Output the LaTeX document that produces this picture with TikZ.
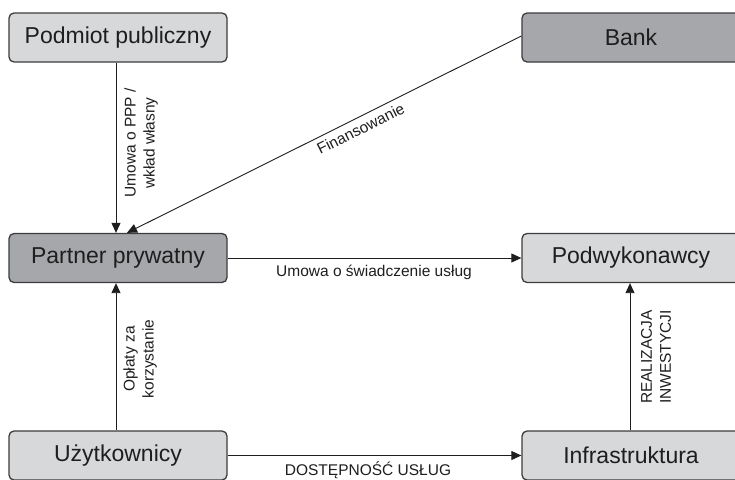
\documentclass[tikz,border=0pt]{standalone}
\usepackage{fontspec}
\setmainfont{Liberation Sans}
\usetikzlibrary{arrows.meta}
\definecolor{boxlight}{HTML}{D7D8DA}
\definecolor{boxdark}{HTML}{A5A7AA}
\definecolor{boxline}{HTML}{3C3C3C}
\definecolor{ink}{HTML}{1E1E1E}
\tikzset{
  box/.style={draw=boxline, line width=1.3pt, rounded corners=5pt,
    minimum width=218pt, minimum height=49pt, inner sep=0pt,
    font=\fontsize{23}{27}\selectfont, text=ink},
  light/.style={box, fill=boxlight},
  dark/.style={box, fill=boxdark},
  arr/.style={draw=ink, line width=0.9pt, -{Triangle[length=10pt,width=9pt]}},
  lbl/.style={font=\fontsize{15.5}{19}\selectfont, text=ink, inner sep=0pt, align=center}
}
\begin{document}
\begin{tikzpicture}[x=1pt,y=-1pt]
  \useasboundingbox (0,0) rectangle (735,479);
  % boxes
  \node[light] (pub)  at (118,37.5)  {Podmiot publiczny};
  \node[dark]  (bank) at (631,37.5)  {Bank};
  \node[dark]  (prv)  at (118,258)   {Partner prywatny};
  \node[light] (sub)  at (631,258)   {Podwykonawcy};
  \node[light] (usr)  at (118,455.5) {Użytkownicy};
  \node[light] (inf)  at (631,455.5) {Infrastruktura};
  % connectors with their labels
  \draw[arr] ([xshift=-2pt]pub.south) -- ([xshift=-2pt]prv.north);
  \draw[arr] ([yshift=1.5pt]bank.west) -- ([xshift=9pt]prv.north)
    node[lbl, pos=0.42, sloped, below=5pt] (l2) {Finansowanie};
  \draw[arr] (prv.east) -- (sub.west);
  \draw[arr] ([xshift=-2pt]usr.north) -- ([xshift=-2pt]prv.south);
  \draw[arr] ([xshift=-1pt]inf.north) -- ([xshift=-1pt]sub.south);
  \draw[arr] (usr.east) -- (inf.west);
  % remaining labels
  \node[lbl, rotate=90] (l1) at (141,143) {Umowa o PPP /\\wkład własny};
  \node[lbl] (l3) at (374,272) {Umowa o świadczenie usług};
  \node[lbl, rotate=90] (l4) at (140,359) {Opłaty za\\korzystanie};
  \node[lbl, rotate=90] (l5) at (656,357) {REALIZACJA\\INWESTYCJI};
  \node[lbl] (l6) at (368,470) {DOSTĘPNOŚĆ USŁUG};
\end{tikzpicture}
\end{document}
